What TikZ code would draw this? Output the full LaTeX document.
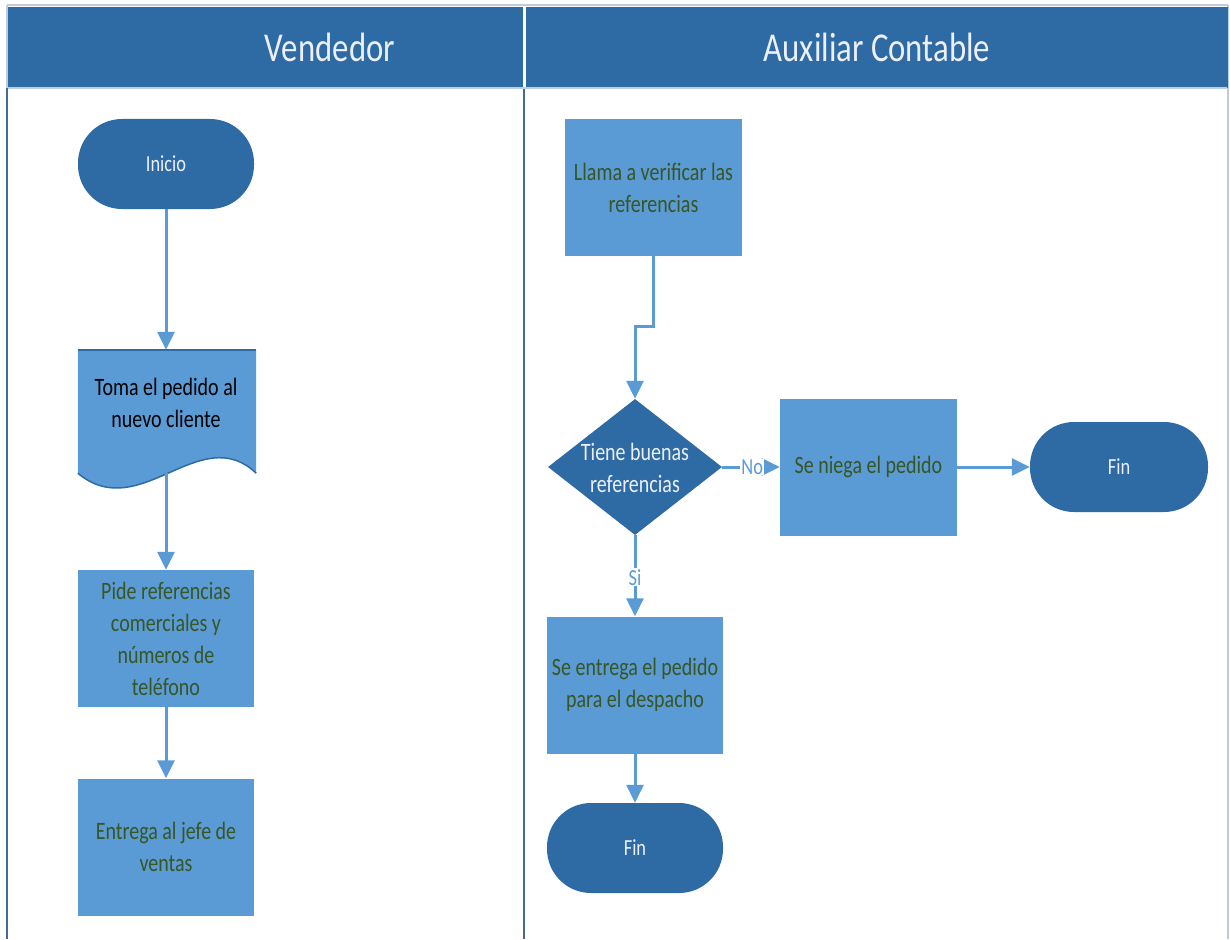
\documentclass[tikz,border=0pt]{standalone}
\usepackage{fontspec}
\setmainfont{Carlito}[FakeStretch=0.8]
\usetikzlibrary{arrows.meta,shapes.geometric}
\definecolor{hdrblue}{RGB}{46,106,164}
\definecolor{boxblue}{RGB}{91,155,213}
\definecolor{txtgreen}{RGB}{55,86,35}
\definecolor{paleline}{RGB}{190,205,222}
\definecolor{laneline}{RGB}{70,105,145}
\definecolor{softwhite}{RGB}{236,240,246}
\begin{document}
\begin{tikzpicture}[x=1pt,y=-1pt,
  every node/.style={inner sep=0pt},
  process/.style={rectangle,fill=boxblue,minimum width=177pt,minimum height=137pt,
    text=txtgreen,align=center,font=\fontsize{25}{32}\selectfont},
  terminal/.style={rectangle,rounded corners=44pt,fill=hdrblue,minimum width=177pt,
    minimum height=90pt,text=softwhite,font=\fontsize{23}{28}\selectfont},
  decision/.style={diamond,fill=hdrblue,minimum width=174pt,minimum height=136pt,aspect=1.28},
  dectext/.style={text=softwhite,align=center,font=\fontsize{25}{32}\selectfont},
  flow/.style={draw=boxblue,line width=3pt,-{Triangle[length=18pt,width=17pt]}},
  flowlabel/.style={fill=white,inner sep=1pt,text=boxblue,font=\fontsize{23}{28}\selectfont},
  lanehead/.style={rectangle,fill=hdrblue,minimum height=81pt,text=softwhite,
    font=\fontsize{41}{48}\selectfont}]
\useasboundingbox (0,0) rectangle (1230,939);

% swimlane frame
\draw[paleline,line width=1.5pt] (7,5) -- (1228,5);
\draw[paleline,line width=1.5pt] (1228,5) -- (1228,939);
\draw[paleline,line width=1.5pt] (7,5) -- (7,88);
\draw[laneline,line width=2pt] (7,88) -- (7,939);
\draw[laneline,line width=1.5pt] (524,88) -- (524,939);
\node[lanehead,minimum width=515pt,anchor=north west] (h1) at (8,7) {};
\node[lanehead,minimum width=702pt,anchor=north west] (h2) at (525.5,7) {};
\draw[paleline,line width=1.2pt] (8,88) -- (1227,88);
\node[text=softwhite,font=\fontsize{41}{48}\selectfont] (t1) at (330,47) {Vendedor};
\node[text=softwhite,font=\fontsize{41}{48}\selectfont] (t2) at (877,47) {Auxiliar Contable};

% Vendedor lane
\node[terminal,minimum width=176pt] (inicio) at (166,164) {Inicio};
\node[rectangle,minimum width=178pt,minimum height=123pt] (toma) at (167,411.5) {};
\fill[boxblue] (toma.north west) -- (toma.north east) -- (toma.south east)
  .. controls (200,420) and (140,525) .. (toma.south west) -- cycle;
\draw[hdrblue,line width=1.5pt] (toma.north west) -- (toma.north east);
\draw[hdrblue,line width=1.5pt] (toma.south east)
  .. controls (200,420) and (140,525) .. (toma.south west);
\node[align=center,text=black,font=\fontsize{25}{32}\selectfont] (tomatxt) at (166,403)
  {Toma el pedido al\\nuevo cliente};
\node[process,minimum width=176pt] (pide) at (166,638.5)
  {Pide referencias\\comerciales y\\números de\\teléfono};
\node[process,minimum width=176pt] (entrega) at (166,847)
  {Entrega al jefe de\\ventas};

% Auxiliar Contable lane
\node[process] (llama) at (653.5,187.5) {Llama a verificar las\\referencias};
\node[decision] (dec) at (635,467) {};
\node[dectext] (dectxt) at (635,468) {Tiene buenas\\referencias};
\node[process] (niega) at (868.5,467) {Se niega el pedido};
\node[terminal,minimum width=178pt] (fin1) at (1119,467) {Fin};
\node[process,minimum width=176pt] (despacho) at (635,685)
  {Se entrega el pedido\\para el despacho};
\node[terminal,minimum width=176pt] (fin2) at (635,848) {Fin};

% connectors
\draw[flow] (inicio.south) -- (toma.north -| inicio.south);
\draw[flow] (toma.south -| inicio.south) -- (pide.north);
\draw[flow] (pide.south) -- (entrega.north);
\coordinate (bend) at (653.5,326);
\draw[flow] (llama.south) -- (bend) -| (dec.north);
\draw[flow] (dec.east) -- (niega.west)
  node[flowlabel,pos=0.52] (no) {No};
\draw[flow] (niega.east) -- (fin1.west);
\draw[flow] (dec.south) -- (despacho.north)
  node[flowlabel,pos=0.52] (si) {Si};
\draw[flow] (despacho.south) -- (fin2.north);
\end{tikzpicture}
\end{document}
